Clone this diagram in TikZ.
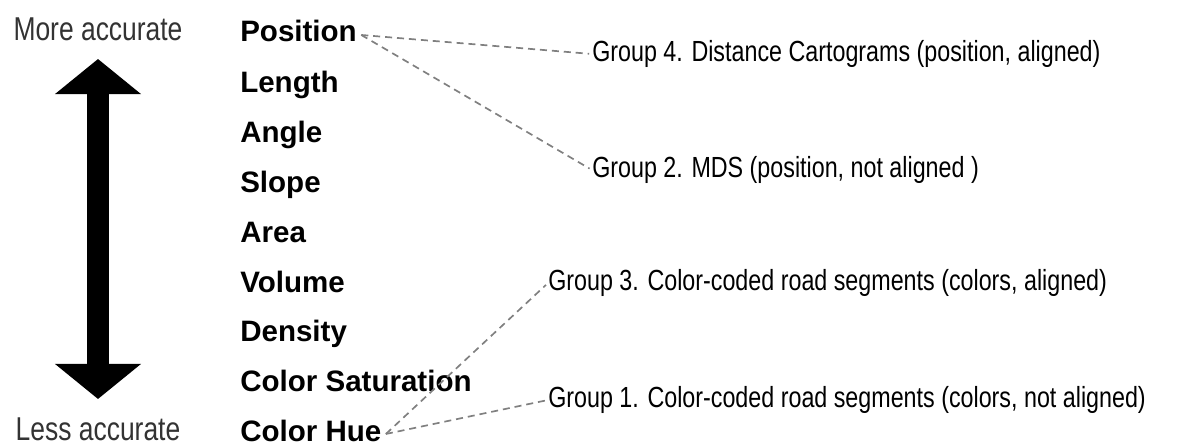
\documentclass[tikz,border=0pt]{standalone}
\usepackage{fontspec}
\setmainfont{Liberation Sans}
\newfontfamily\condfont[FakeStretch=0.80]{Liberation Sans}
\usetikzlibrary{arrows.meta}
\begin{document}
\begin{tikzpicture}[x=0.025cm,y=-0.025cm,
    channel/.style={anchor=base west,inner sep=0pt,font=\fontsize{21}{24}\selectfont\bfseries},
    accur/.style={anchor=base,inner sep=0pt,font=\condfont\fontsize{23.5}{26}\selectfont\color{black!80}},
    group/.style={anchor=west,inner sep=0pt,font=\condfont\fontsize{20.7}{24}\selectfont},
    link/.style={draw=black!50,line width=1.2pt,dash pattern=on 5pt off 3.5pt,shorten >=2pt}]
		    	\useasboundingbox (0,0) rectangle (1198,447);
		    	\node[accur] (MA) at (98,40) {More accurate};
		    	\node[accur] (LA) at (98,440) {Less accurate};
		    	\draw[line width=15.5pt,{Triangle[width=60pt,length=25pt]}-{Triangle[width=60pt,length=25pt]}] (98,59) -- (98,399);
		    	
		    	\node[channel] (CA) at (240,42) {Position};
		    	\node[channel] (CB) at (240,92) {Length};
		    	\node[channel] (CC) at (240,142) {Angle};
		    	\node[channel] (CD) at (240,192) {Slope};
		    	\node[channel] (CE) at (240,242) {Area};
		    	\node[channel] (CF) at (240,292) {Volume};
		    	\node[channel] (CG) at (240,341) {Density};
		    	\node[channel] (CH) at (240,391) {Color Saturation};
		    	\node[channel] (CI) at (240,441) {Color Hue};
		    	
		    	\node[group] (GD) at (592,54) {Group 4. Distance Cartograms (position, aligned)};
		    	\node[group] (GB) at (592,170) {Group 2. MDS (position, not aligned )};
		    	\node[group] (GC) at (548,283) {Group 3. Color-coded road segments (colors, aligned)};
		    	\node[group] (GA) at (548,400) {Group 1. Color-coded road segments (colors, not aligned)};
		    	
		    	\draw[link] ([xshift=3pt,yshift=5pt]CA.base east)--(GD.west);
		    	\draw[link] ([xshift=3pt,yshift=5pt]CA.base east)--(GB.west);
		    	\draw[link] ([xshift=3pt,yshift=5pt]CI.base east)--(GC.west);
		    	\draw[link] ([xshift=3pt,yshift=5pt]CI.base east)--(GA.west);
		    \end{tikzpicture}
\end{document}
